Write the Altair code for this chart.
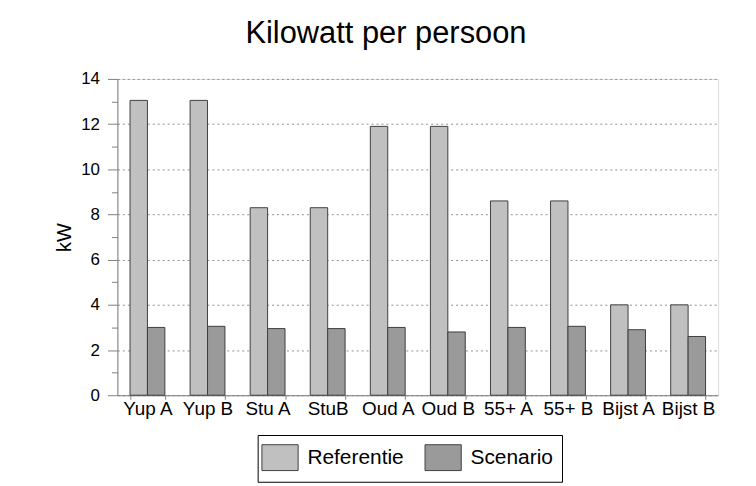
import altair as alt
import pandas as pd

categories = ["Yup A", "Yup B", "Stu A", "StuB", "Oud A", "Oud B", "55+ A", "55+ B", "Bijst A", "Bijst B"]
series = ["Referentie", "Scenario"]
referentie = [13.05, 13.05, 8.3, 8.3, 11.9, 11.9, 8.6, 8.6, 4.0, 4.0]
scenario = [3.0, 3.05, 2.95, 2.95, 3.0, 2.8, 3.0, 3.05, 2.9, 2.6]
y_ticks = list(range(0, 15))

rows = []
for c, r, s in zip(categories, referentie, scenario):
    rows.append({"cat": c, "serie": series[0], "kw": r})
    rows.append({"cat": c, "serie": series[1], "kw": s})
df = pd.DataFrame(rows)

FONT = "Liberation Sans"
odd = "datum.value % 2 === 1"

chart = alt.Chart(df).mark_bar(stroke="#404040", strokeWidth=1).encode(
    x=alt.X(
        "cat:N",
        sort=categories,
        scale=alt.Scale(paddingInner=0.42, paddingOuter=0.21),
        axis=alt.Axis(
            title=None, labelAngle=0, labelFontSize=19, labelColor="black", labelFont=FONT,
            tickBand="extent", tickSize=4, tickColor="#808080", domainColor="#808080",
            labelPadding=0, labelOverlap=False, labelBound=False,
        ),
    ),
    xOffset=alt.XOffset("serie:N", sort=series),
    y=alt.Y(
        "kw:Q",
        scale=alt.Scale(domain=[0, 14], nice=False),
        axis=alt.Axis(
            values=y_ticks,
            labelExpr="datum.value % 2 === 0 ? datum.label : ''",
            tickSize={"condition": {"test": odd, "value": 6}, "value": 10},
            gridOpacity={"condition": {"test": odd, "value": 0}, "value": 1},
            gridDash=[2, 3], gridColor="#909090", tickColor="#808080", domainColor="#808080",
            labelFontSize=17, labelColor="black", labelFont=FONT, labelPadding=8,
            title="kW", titleFontSize=20, titleFontWeight="normal", titleFont=FONT,
            titleColor="black", titlePadding=6,
        ),
    ),
    fill=alt.Fill(
        "serie:N",
        scale=alt.Scale(domain=series, range=["#c0c0c0", "#9a9a9a"]),
        legend=alt.Legend(
            title=None, orient="none", legendX=141, legendY=358, direction="horizontal",
            symbolType="M-1.4,-1H1.4V1H-1.4Z", symbolSize=676, symbolStrokeColor="#404040",
            symbolStrokeWidth=1, labelFontSize=21, labelFont=FONT, labelColor="black",
            labelOffset=14, columnPadding=19, padding=9, strokeColor="black", fillColor="white",
            cornerRadius=0, labelLimit=200,
        ),
    ),
).properties(
    width=604,
    height=318,
    title=alt.TitleParams(
        "Kilowatt per persoon", fontSize=31, font=FONT, fontWeight="normal", color="black",
        anchor="middle", dx=-32, offset=20,
    ),
    autosize=alt.AutoSizeParams(type="none"),
    padding={"left": 110, "top": 70, "right": 30, "bottom": 100},
).configure_view(stroke="#808080", strokeWidth=1).configure(background="white")

chart.save("out.html", embed_options={"renderer": "svg", "actions": False})
